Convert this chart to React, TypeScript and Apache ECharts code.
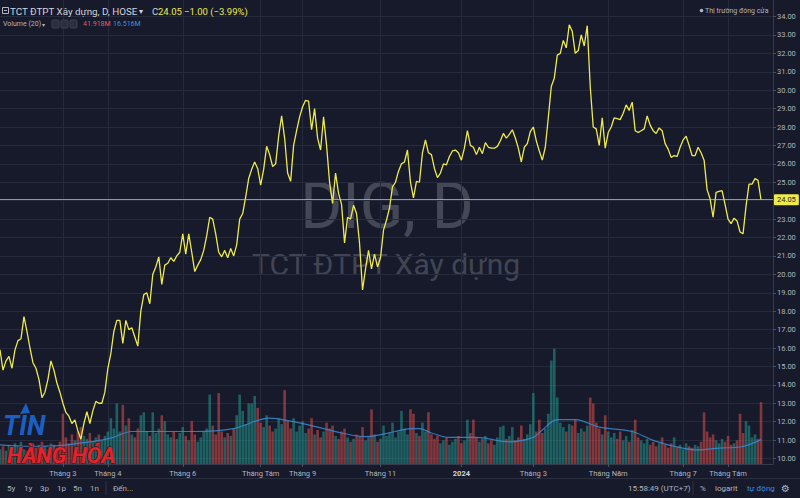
import React, { useEffect, useRef } from "react";
import * as echarts from "echarts";

// ---- data (one point ≈ 1.5 trading days) ----
const PRICES = [
  15.9, 14.8, 15.3, 15.55, 14.9, 15.9, 16.4, 16.5, 17.7, 16.9,
  16.0, 15.2, 14.9, 14.3, 13.3, 13.6, 14.3, 15.3, 14.8, 14.1,
  13.6, 13.0, 12.5, 12.3, 11.9, 12.1, 11.5, 11.05, 11.9, 12.55,
  11.9, 12.6, 13.1, 13.0, 13.0, 13.6, 14.9, 15.7, 16.9, 17.5,
  17.5, 16.25, 17.5, 17.0, 17.1, 16.6, 16.1, 18.0, 18.9, 19.0,
  18.4, 20.0, 20.4, 20.95, 19.45, 20.5, 20.6, 20.9, 20.7, 21.0,
  21.2, 22.2, 21.1, 22.2, 21.2, 20.15, 20.5, 20.8, 21.3, 22.1,
  23.1, 23.0, 22.2, 21.2, 20.95, 21.3, 20.9, 21.4, 21.0, 21.6,
  23.0, 23.3, 24.2, 25.2, 25.7, 26.1, 25.75, 24.85, 25.7, 26.95,
  26.5, 25.85, 26.0, 27.5, 28.6, 27.4, 25.5, 25.05, 27.0, 27.8,
  28.55, 29.1, 29.45, 29.4, 27.85, 29.0, 27.4, 26.75, 28.55, 27.0,
  25.0, 23.85, 25.5, 24.4, 23.8, 21.7, 23.1, 23.0, 23.75, 23.3,
  21.7, 19.15, 20.3, 21.3, 20.3, 21.1, 20.4, 20.9, 22.4, 22.95,
  23.6, 24.75, 25.0, 25.6, 26.0, 26.1, 26.75, 25.0, 24.15, 25.05,
  25.0, 26.6, 27.3, 26.6, 26.5, 25.75, 25.25, 25.5, 26.0, 25.95,
  26.4, 26.7, 26.75, 26.6, 26.2, 26.85, 27.8, 27.0, 26.9, 26.5,
  26.9, 26.55, 27.15, 26.9, 26.85, 26.85, 26.95, 27.25, 27.65, 27.4,
  27.6, 27.85, 27.4, 26.85, 26.1, 26.9, 27.1, 27.75, 28.0, 27.25,
  26.7, 26.2, 26.9, 28.5, 30.2, 30.65, 31.9, 32.0, 32.7, 32.3,
  33.55, 33.2, 32.0, 32.15, 33.0, 32.4, 33.5, 30.2, 28.0, 27.9,
  27.0, 28.5, 26.85, 27.7, 28.0, 28.5, 28.45, 28.4, 28.75, 29.2,
  28.9, 29.35, 27.8, 27.7, 27.8, 27.9, 28.6, 28.1, 27.8, 27.65,
  27.95, 27.8, 27.1, 26.8, 26.35, 26.45, 26.4, 26.9, 27.3, 27.5,
  27.0, 26.45, 26.45, 26.9, 26.6, 26.2, 24.6, 24.1, 23.1, 24.45,
  24.5, 24.55, 23.8, 23.0, 22.75, 23.05, 22.9, 22.3, 22.2, 23.7,
  24.9, 24.9, 25.2, 25.1, 24.05,
];

// volume in millions of shares
const VOLUMES = [
  10, 12, 9, 13, 11, 14, 12, 15, 10, 9,
  12, 14, 11, 13, 15, 12, 10, 14, 13, 11,
  15, 34, 18, 14, 20, 16, 22, 25, 19, 17,
  21, 15, 18, 20, 16, 19, 22, 31, 24, 41,
  22, 40, 26, 31, 20, 18, 24, 33, 35, 22,
  19, 35, 21, 24, 33, 29, 20, 18, 22, 17,
  21, 25, 19, 16, 29, 20, 15, 18, 22, 24,
  47, 26, 20, 48, 22, 18, 21, 19, 24, 33,
  47, 36, 27, 41, 41, 46, 38, 28, 25, 33,
  26, 22, 24, 31, 27, 50, 29, 24, 31, 22,
  26, 29, 21, 24, 31, 20, 23, 18, 22, 28,
  24, 26, 19, 17, 22, 24, 18, 15, 17, 20,
  19, 25, 16, 18, 37, 20, 15, 17, 26, 19,
  21, 28, 18, 22, 36, 24, 20, 37, 34, 21,
  19, 28, 22, 35, 20, 17, 19, 14, 16, 18,
  13, 15, 17, 19, 14, 16, 30, 21, 30, 18,
  15, 17, 19, 14, 16, 13, 18, 25, 26, 17,
  19, 25, 16, 18, 26, 17, 20, 27, 48, 22,
  30, 21, 24, 34, 70, 78, 45, 28, 25, 22,
  27, 26, 30, 21, 24, 22, 26, 45, 41, 28,
  24, 20, 33, 22, 18, 21, 17, 22, 16, 19,
  15, 23, 30, 18, 16, 14, 17, 13, 15, 12,
  14, 18, 13, 11, 14, 18, 12, 13, 10, 14,
  12, 11, 13, 12, 15, 35, 22, 18, 20, 16,
  14, 17, 15, 19, 13, 14, 16, 34, 21, 29,
  26, 18, 20, 17, 41.918,
];

// volume moving average (20): [point index, millions]
const VOLUME_MA = [
  [0, 13], [10, 12], [20, 12.5], [30, 15], [37, 17.5], [44, 22], [55, 22],
  [65, 22], [78, 24], [90, 31], [97, 29], [106, 25], [114, 21], [122, 18.5],
  [132, 22], [137, 24], [140, 24], [144, 21], [150, 18], [159, 18],
  [170, 15], [178, 18], [181, 23], [186, 30], [192, 30], [200, 25],
  [211, 22], [218, 16], [226, 11.5], [233, 9.5], [240, 10.8], [247, 11.5],
  [254, 16.516],
];

const TICK_INDEX = [21, 36, 61, 87, 101, 127, 154, 178, 203, 228, 243];
const TICK_LABELS = [
  "Tháng 3", "Tháng 4", "Tháng 6", "Tháng Tám", "Tháng 9", "Tháng 11",
  "2024", "Tháng 3", "Tháng Năm", "Tháng 7", "Tháng Tám",
];
const YEAR_LABELS = ["2024"];

const PRICE_MIN = 10;
const PRICE_MAX = 34;
const PRICE_STEP = 1;
const VOLUME_AXIS_MAX = 314;
const CATEGORY_COUNT = 259;

const TITLE = "TCT ĐTPT Xây dựng, D, HOSE";
const CHANGE_TEXT = "−1.00 (−3.99%)";
const VOLUME_LABEL = "Volume (20)";
const VOLUME_LAST = "41.918M";
const VOLUME_MA_LAST = "16.516M";
const MARKET_STATUS = "Thị trường đóng cửa";
const WATERMARK_1 = "DIG, D";
const WATERMARK_2 = "TCT ĐTPT Xây dựng";
const RANGE_BUTTONS = ["5y", "1y", "3p", "1p", "5n", "1n"];
const RANGE_X = [7, 24, 40, 57, 73, 90];

const BG = "#161a2b";
const GRID = "#252a3c";
const TEXT = "#b2b5be";
const YELLOW = "#efea4b";
const FONT = "Roboto, 'Noto Sans', sans-serif";

export default function App() {
  const ref = useRef<HTMLDivElement>(null);

  useEffect(() => {
    if (!ref.current) return;
    const chart = echarts.init(ref.current, null, { renderer: "svg" });
    const cats = Array.from({ length: CATEGORY_COUNT }, (_, i) => String(i));
    const isTick = (i: number) => TICK_INDEX.indexOf(i) >= 0;
    const last = PRICES[PRICES.length - 1];

    const barData = VOLUMES.map((v, i) => {
      const up = i === 0 || PRICES[i] >= PRICES[i - 1];
      return {
        value: v,
        itemStyle: { color: up ? "rgba(38,166,154,0.5)" : "rgba(239,83,80,0.5)" },
      };
    });

    const txt = (text: string, x: number, y: number, size: number, fill: string, extra: any = {}) => ({
      type: "text",
      x,
      y,
      silent: true,
      z: 10,
      style: {
        text,
        fill,
        fontSize: size,
        fontFamily: FONT,
        textVerticalAlign: "middle",
        textAlign: "left",
        ...extra,
      },
    });

    const option: any = {
      animation: false,
      backgroundColor: BG,
      textStyle: { fontFamily: FONT },
      grid: [
        { left: 0, top: 0, width: 773, height: 464, outerBoundsMode: "none" },
        { left: 0, top: 16.5, width: 773, height: 442, outerBoundsMode: "none" },
      ],
      xAxis: [
        {
          type: "category",
          gridIndex: 0,
          data: cats,
          boundaryGap: false,
          axisLine: { show: true, onZero: false, lineStyle: { color: "#363a4c" } },
          axisTick: { show: true, interval: (i: number) => isTick(i), length: 3, lineStyle: { color: "#4a4e60" } },
          axisLabel: {
            interval: (i: number) => isTick(i),
            color: TEXT,
            fontSize: 7.5,
            margin: 5,
            formatter: (value: string) => {
              const k = TICK_INDEX.indexOf(Number(value));
              if (k < 0) return "";
              const lab = TICK_LABELS[k];
              return YEAR_LABELS.indexOf(lab) >= 0 ? `{y|${lab}}` : lab;
            },
            rich: { y: { fontWeight: "bold", color: "#d1d4dc", fontSize: 7.5 } },
          },
          splitLine: { show: true, interval: (i: number) => isTick(i), lineStyle: { color: GRID, width: 1 } },
        },
        { type: "category", gridIndex: 1, data: cats, boundaryGap: false, show: false },
      ],
      yAxis: [
        {
          type: "value",
          gridIndex: 0,
          position: "right",
          min: 0,
          max: VOLUME_AXIS_MAX,
          axisLine: { show: true, lineStyle: { color: "#363a4c" } },
          axisTick: { show: false },
          axisLabel: { show: false },
          splitLine: { show: false },
        },
        {
          type: "value",
          gridIndex: 1,
          position: "right",
          min: PRICE_MIN,
          max: PRICE_MAX,
          interval: PRICE_STEP,
          axisLine: { show: false },
          axisTick: { show: true, length: 3, lineStyle: { color: "#4a4e60" } },
          axisLabel: {
            color: TEXT,
            fontSize: 7.5,
            margin: 4,
            formatter: (v: number) => v.toFixed(2),
          },
          splitLine: { lineStyle: { color: GRID, width: 1 } },
        },
      ],
      series: [
        {
          type: "bar",
          xAxisIndex: 0,
          yAxisIndex: 0,
          data: barData,
          barWidth: 2.6,
          silent: true,
          z: 1,
        },
        {
          type: "line",
          xAxisIndex: 0,
          yAxisIndex: 0,
          data: VOLUME_MA,
          smooth: 0.35,
          showSymbol: false,
          silent: true,
          lineStyle: { color: "#3a8cd2", width: 1.2, opacity: 0.85 },
          z: 2,
        },
        {
          type: "line",
          xAxisIndex: 1,
          yAxisIndex: 1,
          data: PRICES,
          showSymbol: false,
          silent: true,
          lineStyle: { color: YELLOW, width: 1.3 },
          z: 3,
          markLine: {
            silent: true,
            symbol: ["none", "none"],
            lineStyle: { color: "rgba(190,190,195,0.75)", type: "solid", width: 1 },
            label: {
              position: "end",
              distance: 1,
              formatter: last.toFixed(2),
              backgroundColor: YELLOW,
              color: "#1b1e2b",
              fontSize: 7.5,
              padding: [2, 3, 1, 3],
              borderRadius: 1,
            },
            data: [{ yAxis: last }],
          },
        },
      ],
      graphic: [
        {
          type: "text", x: 387, y: 206, silent: true, z: -1,
          style: { text: WATERMARK_1, fill: "rgba(255,255,255,0.2)", fontSize: 64, fontFamily: FONT, textAlign: "center", textVerticalAlign: "middle" },
        },
        {
          type: "text", x: 386, y: 264, silent: true, z: -1,
          style: { text: WATERMARK_2, fill: "rgba(255,255,255,0.2)", fontSize: 30, fontFamily: FONT, textAlign: "center", textVerticalAlign: "middle" },
        },
        { type: "rect", shape: { x: 2.5, y: 7.5, width: 6, height: 6 }, silent: true, z: 10, style: { fill: "none", stroke: TEXT, lineWidth: 1 } },
        { type: "line", shape: { x1: 4, y1: 10.5, x2: 7, y2: 10.5 }, silent: true, z: 10, style: { stroke: TEXT, lineWidth: 1 } },
        txt(TITLE, 10, 11, 9.8, "#d1d4dc"),
        txt("▾", 139, 11, 7.5, "#d1d4dc"),
        txt("C", 152, 11, 9.5, "#d1d4dc"),
        txt(last.toFixed(2), 158, 11, 9.5, YELLOW),
        txt(CHANGE_TEXT, 184, 11, 9.5, YELLOW),
        txt(VOLUME_LABEL, 3, 24, 7, TEXT),
        txt("▾", 42, 24, 6, TEXT),
        { type: "rect", shape: { x: 52, y: 20, width: 7, height: 8, r: 1 }, silent: true, z: 10, style: { fill: "#2a2e40", stroke: "#3b3f52", lineWidth: 1 } },
        { type: "rect", shape: { x: 61, y: 20, width: 7, height: 8, r: 1 }, silent: true, z: 10, style: { fill: "#2a2e40", stroke: "#3b3f52", lineWidth: 1 } },
        { type: "rect", shape: { x: 70, y: 20, width: 7, height: 8, r: 1 }, silent: true, z: 10, style: { fill: "#2a2e40", stroke: "#3b3f52", lineWidth: 1 } },
        txt(VOLUME_LAST, 83, 24, 7, "#e0596a"),
        txt(VOLUME_MA_LAST, 113, 24, 7, "#3a96e2"),
        { type: "circle", shape: { cx: 701.5, cy: 10.5, r: 1.8 }, silent: true, z: 10, style: { fill: TEXT } },
        txt(MARKET_STATUS, 705, 10.5, 7, TEXT),
        txt("TIN", 3, 426, 27, "#1d5ec2", { fontWeight: "bold", fontStyle: "italic" }),
        { type: "polygon", shape: { points: [[20, 414], [26, 403], [30, 413]] }, silent: true, z: 10, style: { fill: "#1d5ec2" } },
        txt("HÀNG HÓA", 7, 455, 22, "#e4232b", { fontWeight: "bold", fontStyle: "italic", stroke: "#4a0a0c", lineWidth: 1 }),
        { type: "line", shape: { x1: 0, y1: 478.5, x2: 800, y2: 478.5 }, silent: true, z: 10, style: { stroke: "#2a2e3e", lineWidth: 1 } },
        ...RANGE_BUTTONS.map((b, i) => txt(b, RANGE_X[i], 488, 8, TEXT)),
        { type: "line", shape: { x1: 106, y1: 481, x2: 106, y2: 495 }, silent: true, z: 10, style: { stroke: "#2e3244", lineWidth: 1 } },
        txt("Đến...", 113, 488, 8, TEXT),
        txt("15:58:49 (UTC+7)", 628, 488, 8, TEXT),
        { type: "line", shape: { x1: 693, y1: 481, x2: 693, y2: 495 }, silent: true, z: 10, style: { stroke: "#2e3244", lineWidth: 1 } },
        txt("%", 700, 488, 8, TEXT),
        txt("logarit", 715, 488, 8, TEXT),
        txt("tự động", 747, 488, 8, "#3a8fe0"),
        {
          type: "text", x: 785.5, y: 488, silent: true, z: 10,
          style: { text: "⚙", fill: TEXT, fontSize: 10, fontFamily: "'DejaVu Sans'", textAlign: "center", textVerticalAlign: "middle" },
        },
      ],
    };

    chart.setOption(option);
    return () => chart.dispose();
  }, []);

  return (
    <div
      ref={ref}
      style={{ position: "absolute", left: 0, top: 0, width: 800, height: 498 }}
    />
  );
}
